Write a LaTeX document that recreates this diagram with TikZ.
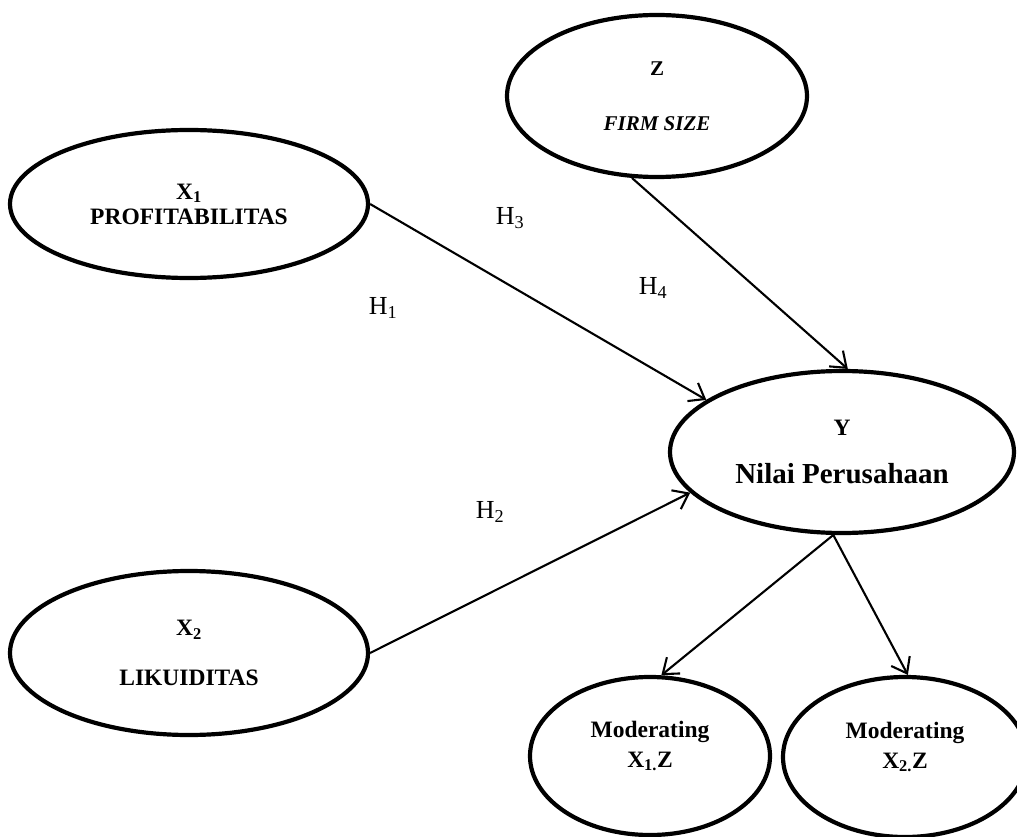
\documentclass[tikz,border=0pt]{standalone}
\usepackage{fontspec}
\setmainfont{Liberation Serif}
\usetikzlibrary{shapes.geometric, arrows.meta}

\begin{document}
\begin{tikzpicture}[x=1pt, y=-1pt,
    var/.style={ellipse, draw, line width=4.2pt, align=center, inner sep=0pt,
        font=\fontsize{23.5}{27}\selectfont\bfseries},
    link/.style={-{Straight Barb[length=14pt, width=21pt]}, line width=2.1pt},
    hyp/.style={font=\fontsize{26}{30}\selectfont}]

        % Fix the page to the size of the reference
        \useasboundingbox (0,0) rectangle (1017,837);

        % Draw the variables as ellipses
        \node[var, minimum width=358pt, minimum height=148pt] (x1) at (189,204)
            {X\textsubscript{1}\\[-2pt]PROFITABILITAS};
        \node[var, minimum width=358pt, minimum height=164pt] (x2) at (189,653)
            {X\textsubscript{2}\\[23pt]LIKUIDITAS};
        \node[var, minimum width=300pt, minimum height=162pt,
            font=\fontsize{21}{25}\selectfont\bfseries] (z) at (657,96)
            {Z\\[30pt]\itshape FIRM SIZE};
        \node[var, minimum width=344pt, minimum height=162pt] (y) at (842,452)
            {Y\\[21pt]\fontsize{29}{35}\selectfont Nilai Perusahaan};
        \node[var, minimum width=240pt, minimum height=158pt] (m1) at (650,756)
            {Moderating\\[3pt]X\textsubscript{1.}Z\\[-3pt]\mbox{}};
        \node[var, minimum width=244pt, minimum height=160pt] (m2) at (905,757)
            {Moderating\\[3pt]X\textsubscript{2.}Z\\[-3pt]\mbox{}};

        % Draw the hypothesis labels
        \node[hyp] (h1) at (383,308) {H\textsubscript{1}};
        \node[hyp] (h2) at (490,512) {H\textsubscript{2}};
        \node[hyp] (h3) at (510,218) {H\textsubscript{3}};
        \node[hyp] (h4) at (653,288) {H\textsubscript{4}};

        % Draw the arrows into Y and out of Y
        \draw[link] (x1.east) -- (y.159);
        \draw[link] (x2.east) -- (y.195);
        \draw[link] (z.253) -- (y.86);
        \draw[link] (y.264) -- (m1.82);
        \draw[link] (y.264) -- (m2.88);

    \end{tikzpicture}
\end{document}
